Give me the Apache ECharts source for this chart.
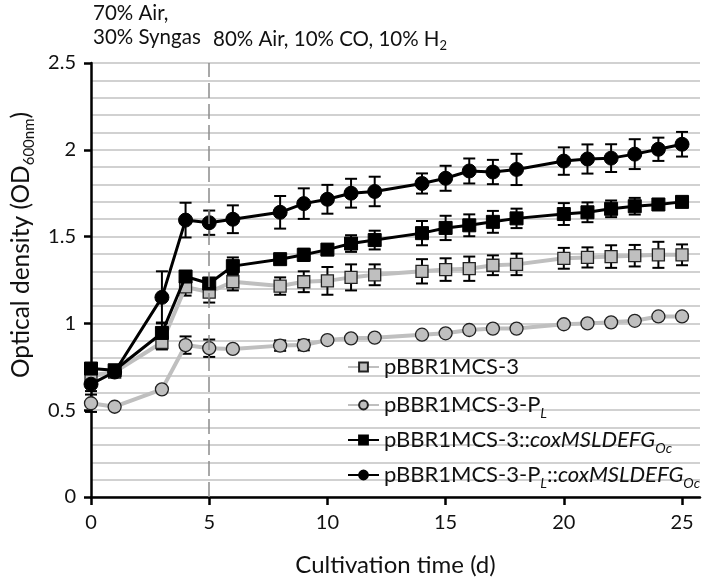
<!DOCTYPE html>
<html>
<head>
<meta charset="utf-8">
<script src="https://cdn.jsdelivr.net/npm/echarts@6/dist/echarts.min.js"></script>
<style>html,body{margin:0;padding:0;background:#fff}#c{width:709px;height:578px}</style>
</head>
<body>
<div id="c"></div>
<script>
// ---- data ----
const days = [0,1,3,4,5,6,8,9,10,11,12,14,15,16,17,18,20,21,22,23,24,25];
const seriesNames = ['pBBR1MCS-3','pBBR1MCS-3-PL','pBBR1MCS-3::coxMSLDEFGOc','pBBR1MCS-3-PL::coxMSLDEFGOc'];
const ctrl = [0.70,0.72,0.89,1.21,1.18,1.24,1.215,1.24,1.245,1.265,1.28,1.30,1.31,1.315,1.335,1.34,1.375,1.38,1.385,1.39,1.395,1.395];
const ctrlErr = [0.02,0.02,0.04,0.05,0.06,0.05,0.05,0.06,0.08,0.075,0.06,0.07,0.065,0.07,0.057,0.062,0.06,0.058,0.065,0.062,0.075,0.06];
const ctrlPL = [0.54,0.52,0.62,0.875,0.857,0.853,0.872,0.875,0.904,0.914,0.918,0.935,0.943,0.962,0.97,0.97,0.995,1.0,1.006,1.015,1.04,1.04];
const ctrlPLErr = [0.05,0,0,0.05,0.05,0,0.03,0.03,0,0,0,0,0,0,0,0,0,0,0,0,0,0];
const cox = [0.74,0.73,0.945,1.27,1.23,1.33,1.37,1.395,1.425,1.46,1.48,1.52,1.55,1.565,1.585,1.605,1.63,1.64,1.66,1.675,1.685,1.70];
const coxErr = [0.02,0.02,0.06,0.03,0.03,0.05,0.03,0.035,0.03,0.048,0.054,0.07,0.07,0.063,0.063,0.056,0.063,0.057,0.048,0.048,0.03,0.03];
const coxPL = [0.65,0.72,1.15,1.595,1.58,1.60,1.64,1.69,1.715,1.75,1.76,1.806,1.836,1.878,1.872,1.887,1.935,1.947,1.952,1.975,2.003,2.032];
const coxPLErr = [0.04,0.02,0.15,0.1,0.07,0.08,0.094,0.088,0.083,0.083,0.085,0.058,0.072,0.072,0.07,0.09,0.079,0.084,0.08,0.086,0.067,0.071];
const xTicks = [0,5,10,15,20,25];
const yTicks = [0,0.5,1,1.5,2,2.5];
const gasChangeDay = 5;

const FONT = 'Lato';
const TXT = '#111';
const GRAY = '#bfbfbf';

const chart = echarts.init(document.getElementById('c'), null, {renderer:'canvas'});

function pts(v){ return days.map((d,i)=>[d, v[i]]); }
function errSeries(v, e, z){
  return {
    type:'custom', silent:true, z:z,
    data: days.map((d,i)=>[d, v[i]-e[i], v[i]+e[i], e[i]]),
    encode:{x:0, y:[1,2]},
    renderItem:function(params, api){
      if (api.value(3) <= 0) return null;
      const lo = api.coord([api.value(0), api.value(1)]);
      const hi = api.coord([api.value(0), api.value(2)]);
      const w = 6;
      const st = {stroke:'#000', lineWidth:2};
      return {type:'group', children:[
        {type:'line', shape:{x1:lo[0],y1:lo[1],x2:hi[0],y2:hi[1]}, style:st},
        {type:'line', shape:{x1:lo[0]-w,y1:lo[1],x2:lo[0]+w,y2:lo[1]}, style:st},
        {type:'line', shape:{x1:hi[0]-w,y1:hi[1],x2:hi[0]+w,y2:hi[1]}, style:st}
      ]};
    }
  };
}

const LFS = 22;
const richBase = {
  n:{fontFamily:FONT, fontSize:LFS, color:TXT, lineHeight:32},
  i:{fontFamily:FONT, fontSize:LFS, color:TXT, fontStyle:'italic', lineHeight:32},
  s:{fontFamily:FONT, fontSize:14, color:TXT, fontStyle:'italic', lineHeight:16, padding:[16,0,0,0]}
};
function legendLabel(name){
  switch(name){
    case seriesNames[0]: return '{n|pBBR1MCS-3}';
    case seriesNames[1]: return '{n|pBBR1MCS-3-P}{s|L}';
    case seriesNames[2]: return '{n|pBBR1MCS-3::}{i|coxMSLDEFG}{s|Oc}';
    case seriesNames[3]: return '{n|pBBR1MCS-3-P}{s|L}{n|::}{i|coxMSLDEFG}{s|Oc}';
  }
  return name;
}
const legendRowCenters = [367, 401, 436, 471];
const legends = seriesNames.map((nm, k) => ({
  data:[nm], orient:'vertical', left:342, top:legendRowCenters[k]-16,
  itemWidth:31, itemHeight:11, itemGap:0,
  formatter:legendLabel,
  textStyle:{fontFamily:FONT, fontSize:LFS, color:TXT, rich:richBase},
  selectedMode:false
}));

const option = {
  animation:false,
  backgroundColor:'#fff',
  grid:{left:91, right:9, top:63, bottom:81, containLabel:false, outerBoundsMode:'none'},
  xAxis:{
    type:'value', min:0, max:25.76, interval:5,
    name:'Cultivation time (d)', nameLocation:'middle', nameGap:56,
    nameTextStyle:{fontFamily:FONT, fontSize:24, color:TXT},
    axisLine:{show:true, lineStyle:{color:'#000', width:2.5}},
    axisTick:{show:true, inside:false, length:8, lineStyle:{color:'#000', width:2.5}, customValues:xTicks},
    axisLabel:{fontFamily:FONT, fontSize:20, color:TXT, margin:16, customValues:xTicks},
    splitLine:{show:false}
  },
  yAxis:{
    type:'value', min:0, max:2.5, interval:0.5,
    axisLine:{show:true, lineStyle:{color:'#000', width:2.5}},
    axisTick:{show:true, length:7, lineStyle:{color:'#000', width:2.5}},
    axisLabel:{fontFamily:FONT, fontSize:20, color:TXT, margin:15,
      formatter:function(v){ return yTicks.indexOf(v)>=0 ? String(v) : ''; }},
    splitLine:{show:true, lineStyle:{color:'#c2c2c2', width:1.5}},
    minorTick:{show:true, splitNumber:5, length:0},
    minorSplitLine:{show:true, lineStyle:{color:'#c2c2c2', width:1.5}}
  },
  legend:legends,
  graphic:[
    {type:'text', left:93, top:3, style:{text:'70% Air,', fontFamily:FONT, fontSize:20.5, fill:TXT}},
    {type:'text', left:93, top:27, style:{text:'30% Syngas', fontFamily:FONT, fontSize:20.5, fill:TXT}},
    {type:'text', left:213, top:27, style:{text:'{n|80% Air, 10% CO, 10% H}{s|2}', fontFamily:FONT, fontSize:20.5, fill:TXT,
      rich:{n:{fontFamily:FONT, fontSize:20.5, fill:TXT, lineHeight:24}, s:{fontFamily:FONT, fontSize:13, fill:TXT, lineHeight:14, padding:[12,0,0,0]}}}},
    {type:'text', x:21, y:245, rotation:Math.PI/2,
      style:{text:'{n|Optical density (OD}{s|600nm}{n|)}', align:'center', verticalAlign:'middle',
        rich:{n:{fontFamily:FONT, fontSize:24.5, fill:TXT, lineHeight:30}, s:{fontFamily:FONT, fontSize:15, fill:TXT, lineHeight:15, padding:[17,0,0,0]}}}}
  ],
  series:[
    errSeries(ctrl, ctrlErr, 1),
    errSeries(ctrlPL, ctrlPLErr, 1),
    errSeries(cox, coxErr, 1),
    errSeries(coxPL, coxPLErr, 1),
    {name:seriesNames[0], type:'line', z:3, data:pts(ctrl), symbol:'rect', symbolSize:12, showAllSymbol:true,
      lineStyle:{color:GRAY, width:4}, itemStyle:{color:GRAY, borderColor:'#222', borderWidth:1.3},
      markLine:{silent:true, symbol:'none', label:{show:false}, animation:false,
        lineStyle:{color:'#8c8c8c', type:[15,6], width:1.5}, data:[{xAxis:gasChangeDay}]}},
    {name:seriesNames[1], type:'line', z:3, data:pts(ctrlPL), symbol:'circle', symbolSize:13, showAllSymbol:true,
      lineStyle:{color:GRAY, width:4}, itemStyle:{color:GRAY, borderColor:'#222', borderWidth:1.3}},
    {name:seriesNames[2], type:'line', z:4, data:pts(cox), symbol:'rect', symbolSize:13, showAllSymbol:true,
      lineStyle:{color:'#000', width:3}, itemStyle:{color:'#000', borderColor:'#000', borderWidth:1}},
    {name:seriesNames[3], type:'line', z:4, data:pts(coxPL), symbol:'circle', symbolSize:14, showAllSymbol:true,
      lineStyle:{color:'#000', width:3}, itemStyle:{color:'#000', borderColor:'#000', borderWidth:1}}
  ]
};
chart.setOption(option);
</script>
</body>
</html>
